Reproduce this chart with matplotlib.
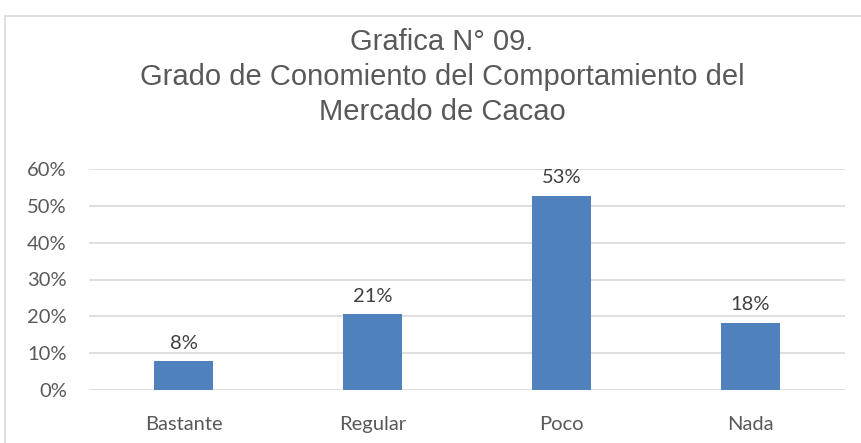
import matplotlib.pyplot as plt
from matplotlib.patches import Rectangle
from matplotlib.ticker import PercentFormatter

categories = ['Bastante', 'Regular', 'Poco', 'Nada']
values = [7.8, 20.5, 52.8, 18.2]
labels = ['8%', '21%', '53%', '18%']

W, H = 862, 443
text_gray = '#595959'
grid_gray = '#D9D9D9'

fig = plt.figure(figsize=(W / 100, H / 100), dpi=100)

# outer chart border (cut off on right and bottom like the reference)
fig.patches.append(Rectangle((5 / W, -0.2), 2.0, (H - 16) / H + 0.2,
                             transform=fig.transFigure, fill=False,
                             edgecolor=grid_gray, linewidth=1.2))

ax = fig.add_axes([89 / W, (H - 390) / H, (845 - 89) / W, (390 - 169) / H])
x = range(len(categories))
ax.bar(x, values, width=59 / 189, color='#4F81BD', zorder=3)

for xi, v, lab in zip(x, values, labels):
    ax.annotate(lab, (xi, v), xytext=(0, 7), textcoords='offset points',
                ha='center', va='bottom', fontsize=14.5, color='#404040',
                family='Lato')

ax.set_xlim(-0.5, 3.5)
ax.set_ylim(0, 60)
ax.set_yticks(range(0, 61, 10))
ax.yaxis.set_major_formatter(PercentFormatter(decimals=0))
ax.set_xticks(list(x))
ax.set_xticklabels(categories)
ax.grid(axis='y', color=grid_gray, linewidth=1.2, zorder=0)
for s in ax.spines.values():
    s.set_visible(False)
ax.tick_params(length=0, labelsize=14.5, labelcolor=text_gray)
ax.tick_params(axis='x', pad=19)
ax.tick_params(axis='y', pad=16)
for t in ax.get_xticklabels() + ax.get_yticklabels():
    t.set_family('Lato')

fig.text(442 / W, (H - 77) / H, 'Grafica N° 09.\nGrado de Conomiento del Comportamiento del\nMercado de Cacao',
         ha='center', va='center', fontsize=21, color=text_gray,
         family='Liberation Sans', linespacing=1.3)

fig.savefig('out.png', dpi=100)
